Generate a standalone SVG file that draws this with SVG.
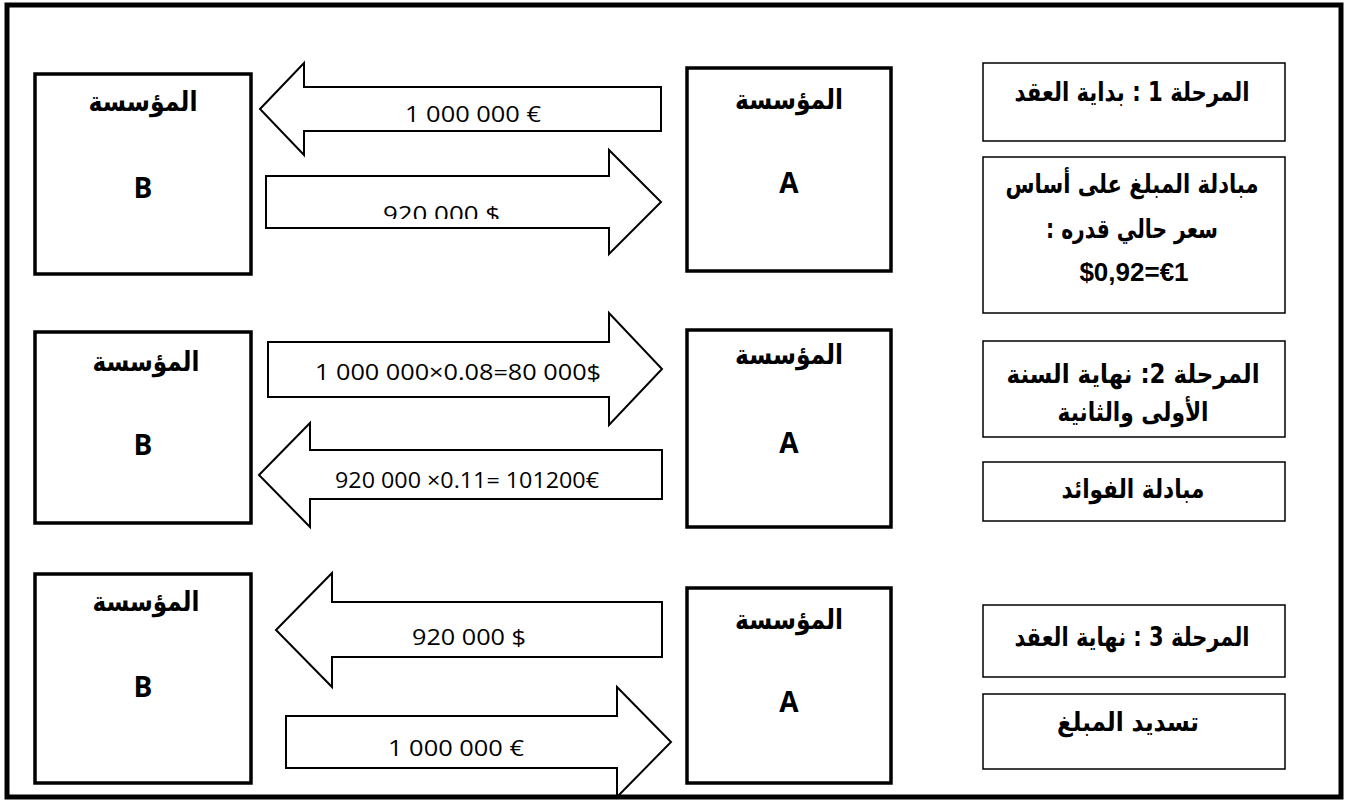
<svg xmlns="http://www.w3.org/2000/svg" width="1347" height="800" viewBox="0 0 1347 800">
<style>
.frame{fill:none;stroke:#000;stroke-width:5}
.ent{fill:#fff;stroke:#000;stroke-width:3.5}
.phase{fill:#fff;stroke:#000;stroke-width:1.5}
.arrow{fill:#fff;stroke:#000;stroke-width:2;stroke-linejoin:miter}
.ar{font-family:"DejaVu Sans",sans-serif;font-weight:bold;font-size:26px;text-anchor:middle;direction:rtl;fill:#000}
.arE{font-family:"DejaVu Sans",sans-serif;font-weight:bold;font-size:27px;text-anchor:middle;direction:rtl;fill:#000}
.num{font-family:"Open Sans","Liberation Sans",sans-serif;font-size:22px;fill:#000}
.let{font-family:"Open Sans","Liberation Sans",sans-serif;font-weight:bold;font-size:28px;text-anchor:middle;fill:#000}
.rate{font-family:"Liberation Sans",Arial,sans-serif;font-weight:bold;font-size:26px;text-anchor:middle;fill:#000}
</style>
<defs>
<clipPath id="clip1"><rect x="260" y="140" width="420" height="79"/></clipPath>
</defs>
<rect width="1347" height="800" fill="#fff"/>
<rect class="frame" x="7" y="5" width="1334" height="792"/>

<g id="connectors">
<g id="r1-left">
<polygon class="arrow" points="260,109 304,63 304,87 661,87 661,131 304,131 304,155"/>
<text class="num" x="405" y="122" textLength="136" lengthAdjust="spacingAndGlyphs">1 000 000 €</text>
</g>
<g id="r1-right">
<polygon class="arrow" points="266,176 609,176 609,150 661,202 609,254 609,228 266,228"/>
<text class="num" x="383" y="222" textLength="117" lengthAdjust="spacingAndGlyphs" clip-path="url(#clip1)">920 000 $</text>
</g>
<g id="r2-right">
<polygon class="arrow" points="268,342 609,342 609,313 662,369 609,425 609,397 268,397"/>
<text class="num" x="315" y="380" textLength="286" lengthAdjust="spacingAndGlyphs">1 000 000×0.08=80 000$</text>
</g>
<g id="r2-left">
<polygon class="arrow" points="259,475 310,423 310,450 662,450 662,499 310,499 310,527"/>
<text class="num" x="335" y="488" textLength="264" lengthAdjust="spacingAndGlyphs">920 000 ×0.11= 101200€</text>
</g>
<g id="r3-left">
<polygon class="arrow" points="276,630 332,573 332,602 662,602 662,657 332,657 332,687"/>
<text class="num" x="412" y="645" textLength="114" lengthAdjust="spacingAndGlyphs">920 000 $</text>
</g>
<g id="r3-right">
<polygon class="arrow" points="286,716 617,716 617,687 671,742 617,797 617,768 286,768"/>
<text class="num" x="388" y="756" textLength="136" lengthAdjust="spacingAndGlyphs">1 000 000 €</text>
</g>
</g>

<g id="B1"><rect class="ent" x="35" y="74" width="216" height="200"/>
<text class="arE" x="143" y="111" textLength="109" lengthAdjust="spacingAndGlyphs">المؤسسة</text>
<text class="let" x="143" y="198">B</text></g>
<g id="A1"><rect class="ent" x="687" y="68" width="204" height="203"/>
<text class="arE" x="789" y="109" textLength="108" lengthAdjust="spacingAndGlyphs">المؤسسة</text>
<text class="let" x="789" y="193">A</text></g>

<g id="B2"><rect class="ent" x="35" y="332" width="216" height="191"/>
<text class="arE" x="146" y="371" textLength="107" lengthAdjust="spacingAndGlyphs">المؤسسة</text>
<text class="let" x="143" y="455">B</text></g>
<g id="A2"><rect class="ent" x="687" y="330" width="204" height="197"/>
<text class="arE" x="789" y="364" textLength="108" lengthAdjust="spacingAndGlyphs">المؤسسة</text>
<text class="let" x="789" y="453">A</text></g>

<g id="B3"><rect class="ent" x="35" y="574" width="216" height="209"/>
<text class="arE" x="146" y="611" textLength="107" lengthAdjust="spacingAndGlyphs">المؤسسة</text>
<text class="let" x="143" y="697">B</text></g>
<g id="A3"><rect class="ent" x="687" y="588" width="204" height="195"/>
<text class="arE" x="789" y="629" textLength="108" lengthAdjust="spacingAndGlyphs">المؤسسة</text>
<text class="let" x="789" y="712">A</text></g>

<g id="phase1"><rect class="phase" x="983" y="63" width="302" height="78"/>
<text class="ar" x="1132" y="101" textLength="235" lengthAdjust="spacingAndGlyphs">المرحلة 1 : بداية العقد</text></g>
<g id="phase1-desc"><rect class="phase" x="983" y="157" width="302" height="156"/>
<text class="ar" x="1132" y="193" textLength="253" lengthAdjust="spacingAndGlyphs">مبادلة المبلغ على أساس</text>
<text class="ar" x="1132" y="238" textLength="172" lengthAdjust="spacingAndGlyphs">سعر حالي قدره :</text>
<text class="rate" x="1134" y="281">$0,92=€1</text></g>

<g id="phase2"><rect class="phase" x="983" y="341" width="302" height="96"/>
<text class="ar" x="1133" y="383" textLength="253" lengthAdjust="spacingAndGlyphs">المرحلة 2: نهاية السنة</text>
<text class="ar" x="1133" y="421" textLength="151" lengthAdjust="spacingAndGlyphs">الأولى والثانية</text></g>
<g id="phase2-desc"><rect class="phase" x="983" y="462" width="302" height="59"/>
<text class="ar" x="1133" y="498" textLength="143" lengthAdjust="spacingAndGlyphs">مبادلة الفوائد</text></g>

<g id="phase3"><rect class="phase" x="983" y="605" width="302" height="72"/>
<text class="ar" x="1132" y="646" textLength="235" lengthAdjust="spacingAndGlyphs">المرحلة 3 : نهاية العقد</text></g>
<g id="phase3-desc"><rect class="phase" x="983" y="694" width="302" height="75"/>
<text class="ar" x="1128" y="731" textLength="142" lengthAdjust="spacingAndGlyphs">تسديد المبلغ</text></g>
</svg>
